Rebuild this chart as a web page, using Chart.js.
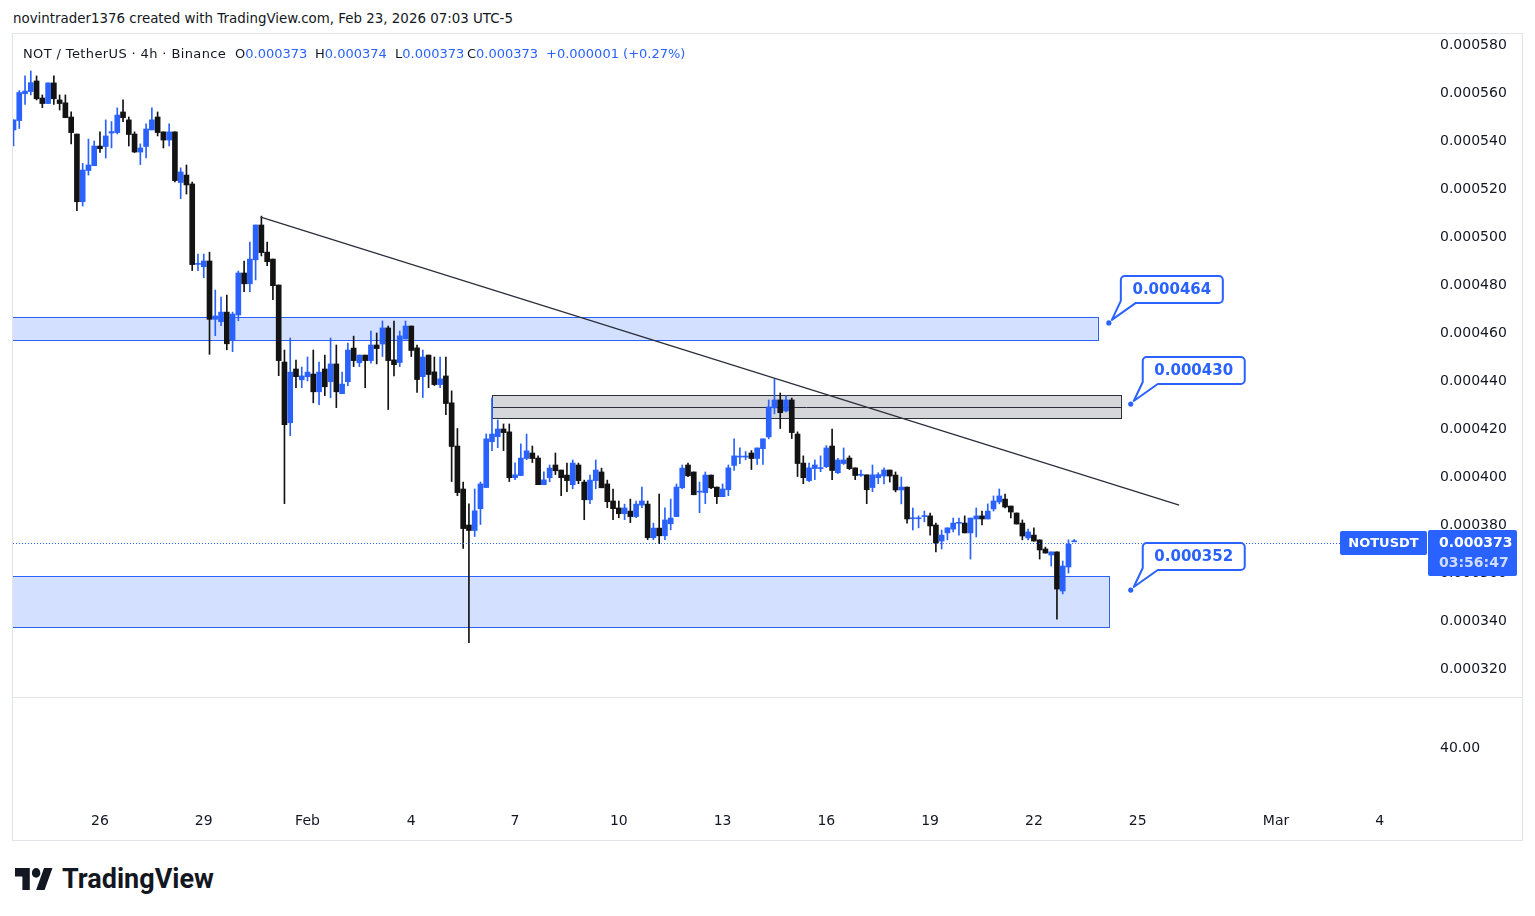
<!DOCTYPE html>
<html>
<head>
<meta charset="utf-8">
<title>NOT / TetherUS · 4h · Binance</title>
<script src="https://cdn.jsdelivr.net/npm/chart.js"></script>
<style>
  html, body { margin:0; padding:0; background:#ffffff; width:1535px; height:916px; overflow:hidden;
    font-family:"DejaVu Sans", sans-serif; color:#131722; }
  #hdr { position:absolute; left:13px; top:10px; font-size:13.4px; line-height:17px; white-space:nowrap; }
  #frame { position:absolute; left:12px; top:33px; width:1509px; height:806px; border:1px solid #e0e3eb; }
  #wrap { position:absolute; left:13px; top:34px; width:1509px; height:806px; }
  #legend { position:absolute; left:0; top:45px; height:17px; font-size:13px; line-height:17px; white-space:nowrap; }
  #legend span { position:absolute; top:0; }
  #legend .v { color:#2962ff; }
  #footer { position:absolute; left:15px; top:862px; height:34px; white-space:nowrap; }
  #footer svg { position:absolute; left:0; top:6px; }
  #footer .name { position:absolute; left:47px; top:0; font-family:Roboto, sans-serif; font-weight:700; font-size:27px; line-height:34px; color:#131722; letter-spacing:0px; }
</style>
</head>
<body>
<div id="hdr">novintrader1376 created with TradingView.com, Feb 23, 2026 07:03 UTC-5</div>
<div id="frame"></div>
<div id="wrap"><canvas id="c" width="1509" height="806"></canvas></div>
<div id="legend">
  <span style="left:23px; letter-spacing:0.38px">NOT / TetherUS · 4h · Binance</span>
  <span style="left:235px">O<b class="v" style="font-weight:normal">0.000373</b></span>
  <span style="left:315px">H<b class="v" style="font-weight:normal">0.000374</b></span>
  <span style="left:395px">L<b class="v" style="font-weight:normal">0.000373</b></span>
  <span style="left:467px">C<b class="v" style="font-weight:normal">0.000373</b></span>
  <span class="v" style="left:546px">+0.000001 (+0.27%)</span>
</div>
<div id="footer">
  <svg width="38" height="22" viewBox="0 4 36 18" preserveAspectRatio="none"><path d="M14 22H7V11H0V4h14v18zM28 22h-8l7.5-18h8L28 22z" fill="#131722"/><circle cx="20" cy="8" r="4" fill="#131722"/></svg>
  <div class="name">TradingView</div>
</div>
<script>
// ---- Data (prices in millionths of USDT, i.e. value × 1e-6) ----
const firstCandleTime = Date.UTC(2026, 0, 23, 15);   // chart time (UTC-5) of first candle
const candleHours = 4;

const opens = [544.6,548.5,559.7,560.6,565.0,557.9,555.6,564.2,557.1,555.9,
 550.0,542.9,514.7,527.7,529.7,537.9,537.7,543.3,543.5,552.1,
 548.8,542.9,535.4,537.7,544.6,550.0,543.8,540.4,543.8,522.7,
 525.8,522.1,488.6,487.6,490.0,465.7,464.7,468.7,457.1,467.5,
 485.0,480.5,490.5,505.0,493.7,490.8,480.0,447.9,422.6,445.0,
 440.5,441.8,442.9,435.5,445.0,439.7,447.1,434.7,439.7,453.7,
 447.6,450.8,448.5,455.0,455.4,462.1,448.8,447.7,457.5,462.9,
 453.8,441.8,450.8,443.8,438.5,442.1,430.9,412.9,395.0,380.0,
 377.7,386.8,395.6,414.7,416.8,420.0,418.8,399.7,400.6,407.7,
 410.0,407.9,396.8,399.7,405.0,402.9,400.8,396.8,405.0,397.9,
 390.5,398.5,402.1,397.1,390.0,387.1,384.7,385.8,383.5,388.3,
 388.7,374.7,378.7,375.5,380.5,383.5,395.5,405.0,402.1,393.7,
 393.5,400.8,395.8,391.8,394.7,404.8,408.3,408.3,410.0,407.7,
 411.8,416.7,428.8,432.1,427.5,432.1,417.9,405.8,398.5,403.5,
 403.5,404.3,412.9,401.8,405.6,407.9,403.8,400.7,400.9,395.6,
 399.7,400.4,402.9,400.8,394.6,395.8,382.6,382.6,383.5,383.8,
 380.0,373.3,376.7,378.3,380.7,380.8,376.7,382.5,383.8,382.5,
 386.7,389.6,390.8,387.9,385.0,380.8,374.6,375.8,373.8,370.0,
 367.5,368.8,352.5,362.5,373.0];

const highs = [548.8,561.0,567.1,569.2,567.1,559.2,564.2,567.1,559.2,559.2,
 552.1,542.9,530.7,540.8,540.0,543.8,548.8,548.1,553.8,557.1,
 550.0,543.8,538.8,547.1,553.8,552.1,543.8,547.1,543.8,528.8,
 530.0,522.9,492.9,492.9,493.7,477.9,475.0,475.8,468.7,485.8,
 490.0,497.9,505.0,508.7,497.9,490.8,480.0,452.9,457.9,448.7,
 445.8,450.0,452.9,447.9,450.8,457.9,455.0,443.7,455.8,458.7,
 450.8,450.8,460.8,460.0,465.0,462.9,465.0,460.8,465.0,462.9,
 455.0,452.9,450.8,450.0,450.0,450.0,435.9,420.2,397.9,388.8,
 395.0,397.9,417.9,432.9,423.8,422.1,422.1,405.9,413.8,417.9,
 412.9,408.8,402.1,405.0,410.0,402.9,405.8,407.1,405.8,398.7,
 400.8,407.1,403.7,398.7,395.0,390.0,388.7,390.8,390.0,395.8,
 390.0,380.8,392.9,387.1,390.8,397.1,405.0,405.8,402.1,397.9,
 402.1,400.8,395.8,397.1,405.0,415.9,412.1,410.6,411.0,412.1,
 415.9,432.1,440.9,435.0,433.8,432.9,418.8,408.8,405.8,407.1,
 408.8,413.1,420.0,407.8,412.1,408.8,403.8,402.9,400.9,405.0,
 401.8,403.8,402.9,402.1,400.0,395.8,387.1,383.8,385.8,385.0,
 380.8,377.9,378.8,382.9,382.9,383.8,382.9,387.1,385.8,388.8,
 392.1,395.0,392.9,387.9,385.0,382.1,378.3,378.8,373.8,370.8,
 368.8,368.8,365.0,373.8,374.0];

const lows = [537.9,545.2,555.2,559.2,557.1,553.9,555.6,555.2,552.9,549.7,
 538.8,511.0,512.9,525.8,529.7,535.2,532.9,537.1,542.9,548.1,
 537.9,535.2,530.2,532.9,544.6,542.1,537.1,537.9,522.9,516.0,
 517.9,486.0,486.0,483.0,451.1,458.9,463.0,453.0,452.2,465.1,
 477.2,477.2,482.1,492.1,488.0,473.9,442.2,388.9,417.2,437.2,
 437.2,440.0,430.9,430.1,433.9,433.0,428.9,434.7,438.0,446.0,
 446.0,437.2,447.4,447.1,450.2,428.1,442.1,446.0,457.5,450.2,
 435.2,433.1,437.2,438.1,437.2,426.0,398.1,392.2,370.2,331.0,
 375.2,380.2,395.6,411.0,412.2,411.0,398.1,398.9,400.6,407.2,
 406.0,396.8,396.8,398.0,401.0,392.2,393.9,395.1,397.2,382.2,
 388.9,395.1,395.5,387.2,382.2,383.0,382.2,381.0,383.0,387.2,
 373.9,373.9,372.2,373.9,378.0,383.5,395.1,400.1,392.6,385.1,
 388.9,395.1,388.9,391.8,392.2,402.7,405.6,407.2,403.1,405.2,
 405.2,415.9,426.3,420.2,427.1,416.0,400.2,397.2,398.1,398.9,
 402.2,403.9,398.9,401.4,405.2,403.1,398.9,400.2,388.9,393.9,
 397.2,397.1,397.9,393.8,388.8,380.8,377.9,378.8,381.3,375.8,
 368.8,370.0,373.8,377.1,375.8,376.7,365.8,375.0,380.0,382.5,
 385.8,388.8,387.1,382.9,380.4,373.8,373.8,373.3,365.8,368.3,
 362.9,340.8,351.3,360.0,373.0];

const closes = [548.8,560.2,560.8,564.3,557.6,555.6,564.2,557.6,555.6,549.7,
 543.5,514.7,527.9,530.0,537.9,536.8,542.1,543.9,550.8,549.7,
 542.7,535.4,537.1,545.0,548.8,543.5,540.4,543.8,523.5,527.1,
 521.7,488.5,488.9,490.0,465.7,467.1,468.7,455.5,467.9,485.0,
 480.5,490.8,505.0,493.5,489.7,479.7,448.5,421.8,443.7,441.8,
 442.1,443.7,435.5,443.7,437.6,447.1,435.5,438.7,452.9,448.5,
 450.8,448.5,455.0,453.5,462.1,448.5,446.8,458.8,462.9,452.7,
 440.6,450.0,442.7,438.5,440.9,430.6,412.7,393.5,378.5,377.7,
 385.9,397.1,415.9,417.9,420.0,418.5,399.7,400.9,407.9,410.9,
 407.7,396.8,398.8,403.7,402.6,399.7,398.5,405.8,398.5,390.5,
 398.7,402.9,395.5,389.7,386.8,384.7,387.1,383.5,388.7,390.0,
 374.7,378.7,375.5,382.1,382.9,395.8,403.7,400.5,392.6,393.9,
 400.8,395.5,391.8,395.0,403.8,408.8,408.6,408.6,407.7,412.1,
 415.9,429.2,432.1,426.8,432.1,418.5,405.6,399.7,403.8,405.0,
 403.8,412.1,402.7,407.1,407.1,403.5,400.6,401.0,394.7,400.9,
 401.0,402.9,400.4,394.6,395.8,382.5,382.9,382.9,383.8,379.6,
 372.5,375.8,378.8,380.8,381.0,376.7,382.9,383.8,382.5,385.8,
 390.0,392.1,387.5,385.4,380.4,375.4,377.1,373.3,369.6,368.3,
 368.8,353.3,362.9,372.0,373.0];

const priceTicks = [320,340,360,380,400,420,440,460,480,500,520,540,560,580];
const indicatorTicks = [40];
const dayTickDates = ['2026-01-26','2026-01-29','2026-02-01','2026-02-04','2026-02-07','2026-02-10',
  '2026-02-13','2026-02-16','2026-02-19','2026-02-22','2026-02-25','2026-03-01','2026-03-04'];
const dayTickLabels = ['26','29','Feb','4','7','10','13','16','19','22','25','Mar','4'];

// Drawings (x in candle index units, y in millionths)
const upperZone = { x1:-5, x2:188.1, top:466.7, bottom:457.1 };
const grayZone  = { x1:83.0, x2:192.1, top:434.0, mid:429.0, bottom:424.5 };
const lowerZone = { x1:-5, x2:190.0, top:358.75, bottom:337.5 };
const trendLine = { x1:42.9, y1:508.3, x2:202.2, y2:388.3 };
const calloutX = [190.0, 193.8, 193.8];
const calloutY = [464.2, 430.4, 352.9];
const calloutText = ['0.000464', '0.000430', '0.000352'];
const lastPrice = 372.6;
const symbolName = 'NOTUSDT';
const lastPriceText = '0.000373';
const countdownText = '03:56:47';

// ---- Chart ----
const UP = '#2962ff', DOWN = '#131313', BLUE = '#2962ff';
const idx = opens.map((_, i) => i);
const candleColors = idx.map(i => closes[i] >= opens[i] ? UP : DOWN);
const tickPos = dayTickDates.map(d => (Date.parse(d + 'T03:00:00Z') - firstCandleTime) / (candleHours * 3600e3));

function rr(ctx, x, y, w, h, r) {
  ctx.beginPath();
  ctx.moveTo(x + r, y); ctx.lineTo(x + w - r, y); ctx.arcTo(x + w, y, x + w, y + r, r);
  ctx.lineTo(x + w, y + h - r); ctx.arcTo(x + w, y + h, x + w - r, y + h, r);
  ctx.lineTo(x + r, y + h); ctx.arcTo(x, y + h, x, y + h - r, r);
  ctx.lineTo(x, y + r); ctx.arcTo(x, y, x + r, y, r); ctx.closePath();
}

const overlay = {
  id: 'overlay',
  beforeDatasetsDraw(chart) {
    const { ctx, chartArea: ca, scales: { x, y } } = chart;
    ctx.save();
    ctx.beginPath(); ctx.rect(ca.left, y.top, ca.right - ca.left, y.bottom - y.top); ctx.clip();
    const rectZone = (z, fill, stroke) => {
      const X1 = x.getPixelForValue(z.x1), X2 = x.getPixelForValue(z.x2);
      const T = y.getPixelForValue(z.top), B = y.getPixelForValue(z.bottom);
      ctx.fillStyle = fill; ctx.fillRect(X1, T, X2 - X1, B - T);
      ctx.strokeStyle = stroke; ctx.lineWidth = 1;
      ctx.strokeRect(Math.round(X1) + 0.5, Math.round(T) + 0.5, Math.round(X2 - X1), Math.round(B - T));
      if (z.mid !== undefined) {
        const M = Math.round(y.getPixelForValue(z.mid)) + 0.5;
        ctx.beginPath(); ctx.moveTo(X1, M); ctx.lineTo(X2, M); ctx.stroke();
      }
    };
    rectZone(upperZone, 'rgba(41,98,255,0.2)', BLUE);
    rectZone(lowerZone, 'rgba(41,98,255,0.2)', BLUE);
    rectZone(grayZone, 'rgba(120,123,134,0.3)', '#2a2e39');
    ctx.restore();
  },
  afterDatasetsDraw(chart) {
    const { ctx, chartArea: ca, scales: { x, y } } = chart;
    ctx.save();
    ctx.beginPath(); ctx.rect(ca.left, y.top, ca.right - ca.left, y.bottom - y.top); ctx.clip();
    ctx.strokeStyle = '#2a2e39'; ctx.lineWidth = 1.2;
    ctx.beginPath();
    ctx.moveTo(x.getPixelForValue(trendLine.x1), y.getPixelForValue(trendLine.y1));
    ctx.lineTo(x.getPixelForValue(trendLine.x2), y.getPixelForValue(trendLine.y2));
    ctx.stroke();
    const ly = Math.round(y.getPixelForValue(lastPrice)) + 0.5;
    ctx.strokeStyle = BLUE; ctx.lineWidth = 1; ctx.setLineDash([1, 2]);
    ctx.beginPath(); ctx.moveTo(ca.left, ly); ctx.lineTo(ca.right, ly); ctx.stroke();
    ctx.setLineDash([]);
    calloutX.forEach((cx, k) => {
      const px = x.getPixelForValue(cx), py = y.getPixelForValue(calloutY[k]);
      const L = px + 12, T = py - 47, W = 102, H = 27, B = T + H, R = L + W, r = 4;
      ctx.beginPath();
      ctx.moveTo(L + r, T); ctx.lineTo(R - r, T); ctx.arcTo(R, T, R, T + r, r);
      ctx.lineTo(R, B - r); ctx.arcTo(R, B, R - r, B, r);
      ctx.lineTo(L + 15, B); ctx.lineTo(px + 3, py - 3); ctx.lineTo(L, B - 2);
      ctx.lineTo(L, T + r); ctx.arcTo(L, T, L + r, T, r); ctx.closePath();
      ctx.fillStyle = '#ffffff'; ctx.fill();
      ctx.strokeStyle = BLUE; ctx.lineWidth = 2; ctx.lineJoin = 'round'; ctx.stroke();
      ctx.beginPath(); ctx.arc(px, py, 2.6, 0, Math.PI * 2); ctx.fillStyle = BLUE; ctx.fill();
      ctx.fillStyle = BLUE; ctx.font = 'bold 15px "DejaVu Sans"';
      ctx.textAlign = 'center'; ctx.textBaseline = 'middle';
      ctx.fillText(calloutText[k], L + W / 2, T + H / 2 + 1);
    });
    ctx.restore();
  },
  afterDraw(chart) {
    const { ctx, chartArea: ca, scales: { y } } = chart;
    ctx.save();
    ctx.strokeStyle = '#e0e3eb'; ctx.lineWidth = 1;
    ctx.beginPath(); ctx.moveTo(0, Math.round(y.bottom) + 0.5); ctx.lineTo(chart.width, Math.round(y.bottom) + 0.5); ctx.stroke();
    const py = Math.round(y.getPixelForValue(lastPrice));
    ctx.fillStyle = BLUE;
    rr(ctx, ca.right - 87, py - 12, 87, 24, 2); ctx.fill();
    rr(ctx, ca.right + 1, py - 13, 89, 46, 2); ctx.fill();
    ctx.fillStyle = '#ffffff'; ctx.font = 'bold 13px "DejaVu Sans"';
    ctx.textAlign = 'center'; ctx.textBaseline = 'middle';
    ctx.fillText(symbolName, ca.right - 43.5, py + 0.5);
    ctx.textAlign = 'left'; ctx.font = 'bold 14px "DejaVu Sans"';
    ctx.fillText(lastPriceText, ca.right + 12, py + 0.5);
    ctx.fillStyle = 'rgba(255,255,255,0.78)';
    ctx.fillText(countdownText, ca.right + 12, py + 20.5);
    ctx.restore();
  }
};

Chart.defaults.font.family = '"DejaVu Sans", sans-serif';
Chart.defaults.color = '#131722';

const noPad = s => { s.paddingTop = 0; s.paddingBottom = 0; s.paddingLeft = 0; s.paddingRight = 0; };

new Chart(document.getElementById('c'), {
  type: 'bar',
  data: {
    datasets: [
      { label: 'wick', data: idx.map(i => ({ x: i, y: [lows[i], highs[i]] })),
        backgroundColor: candleColors, barThickness: 1, grouped: false, order: 2, borderWidth: 0 },
      { label: 'body', data: idx.map(i => ({ x: i, y: [opens[i], closes[i]] })),
        backgroundColor: candleColors, barThickness: 5, grouped: false, order: 1, borderWidth: 0, minBarLength: 1 }
    ]
  },
  options: {
    responsive: false, animation: false, devicePixelRatio: 1, events: [],
    layout: { padding: 0 },
    plugins: { legend: { display: false }, tooltip: { enabled: false } },
    scales: {
      x: {
        type: 'linear', min: -0.087, max: 245.19, offset: false,
        grid: { display: false, drawTicks: false }, border: { display: false },
        afterBuildTicks: s => { s.ticks = tickPos.map(v => ({ value: v })); },
        afterFit: s => { s.height = 40; noPad(s); },
        ticks: { autoSkip: false, maxRotation: 0, padding: 13, font: { size: 14 }, color: '#131722',
          callback: (v, i) => dayTickLabels[i] }
      },
      y: {
        type: 'linear', position: 'right', stack: 'panes', stackWeight: 663,
        min: 308.33, max: 584.58,
        grid: { display: false, drawTicks: false }, border: { display: false },
        afterBuildTicks: s => { s.ticks = priceTicks.map(v => ({ value: v })); },
        afterFit: s => { s.width = 95; noPad(s); },
        ticks: { padding: 13, font: { size: 14 }, color: '#131722',
          callback: v => (v * 1e-6).toFixed(6) }
      },
      y2: {
        type: 'linear', position: 'right', stack: 'panes', stackWeight: 103,
        min: 0, max: 80,
        grid: { display: false, drawTicks: false }, border: { display: false },
        afterBuildTicks: s => { s.ticks = indicatorTicks.map(v => ({ value: v })); },
        afterFit: s => { s.width = 95; noPad(s); },
        ticks: { padding: 13, font: { size: 14 }, color: '#131722',
          callback: v => v.toFixed(2) }
      }
    }
  },
  plugins: [overlay]
});
</script>
</body>
</html>
